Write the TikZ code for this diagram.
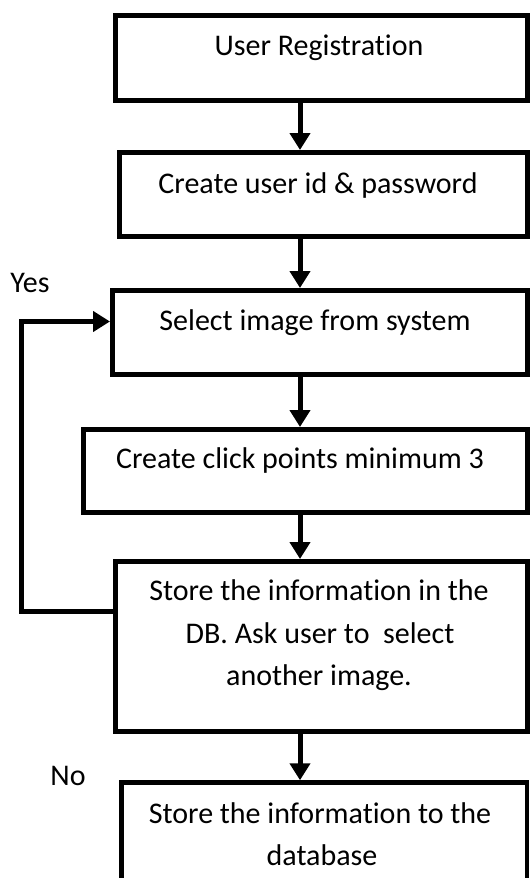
\documentclass[tikz,border=0pt]{standalone}
\usepackage{fontspec}
\setmainfont{Carlito}[Ligatures={NoCommon,NoContextual,NoRare}]
\usetikzlibrary{arrows.meta}
\begin{document}
\begin{tikzpicture}[x=1pt,y=-1pt,
  box/.style={draw, line width=5pt, rectangle, inner sep=0pt},
  lbl/.style={anchor=base, inner sep=0pt, font=\fontsize{30}{36}\selectfont},
  arr/.style={line width=5pt, -{Triangle[width=20pt,length=17pt]}}]
\useasboundingbox[fill=white] (0,0) rectangle (530,878);
% boxes
\node[box, minimum width=411.5pt, minimum height=84.5pt] (b1) at (321.25,57.75) {};
\node[box, minimum width=408pt, minimum height=84pt] (b2) at (323,194.5) {};
\node[box, minimum width=414.5pt, minimum height=84pt] (b3) at (319.75,332.5) {};
\node[box, minimum width=443.5pt, minimum height=83pt] (b4) at (305.25,471) {};
\node[box, minimum width=411.5pt, minimum height=170pt] (b5) at (321.25,646.5) {};
\node[box, line width=4.5pt, minimum width=405.5pt, minimum height=97.5pt] (b6) at (324.25,831.25) {};
% labels
\node[lbl] (t1) at (319,55) {User Registration};
\node[lbl] (t2) at (318,193) {Create user id \& password};
\node[lbl] (t3) at (315,330) {Select image from system};
\node[lbl] (t4) at (300,468) {Create click points minimum 3};
\node[lbl] (t5a) at (319,600) {Store the information in the};
\node[lbl] (t5b) at (320,643) {DB. Ask user to\ \ select};
\node[lbl] (t5c) at (319,685) {another image.};
\node[lbl] (t6a) at (320,823) {Store the information to the};
\node[lbl] (t6b) at (322,865) {database};
\node[lbl] (yes) at (30,292) {Yes};
\node[lbl] (no) at (68,785) {No};
% connectors
\coordinate (ax) at (300,0);
\draw[arr] (b1.south -| ax) -- (b2.north -| ax);
\draw[arr] (b2.south -| ax) -- (b3.north -| ax);
\draw[arr] (b3.south -| ax) -- (b4.north -| ax);
\draw[arr] (b4.south -| ax) -- (b5.north -| ax);
\draw[arr] (b5.south -| ax) -- (b6.north -| ax);
\coordinate (lb) at (21,611);
\coordinate (lt) at (21,321.5);
\draw[arr] (b5.west |- lb) -- (lb) -- (lt) -- (b3.west |- lt);
\end{tikzpicture}
\end{document}
